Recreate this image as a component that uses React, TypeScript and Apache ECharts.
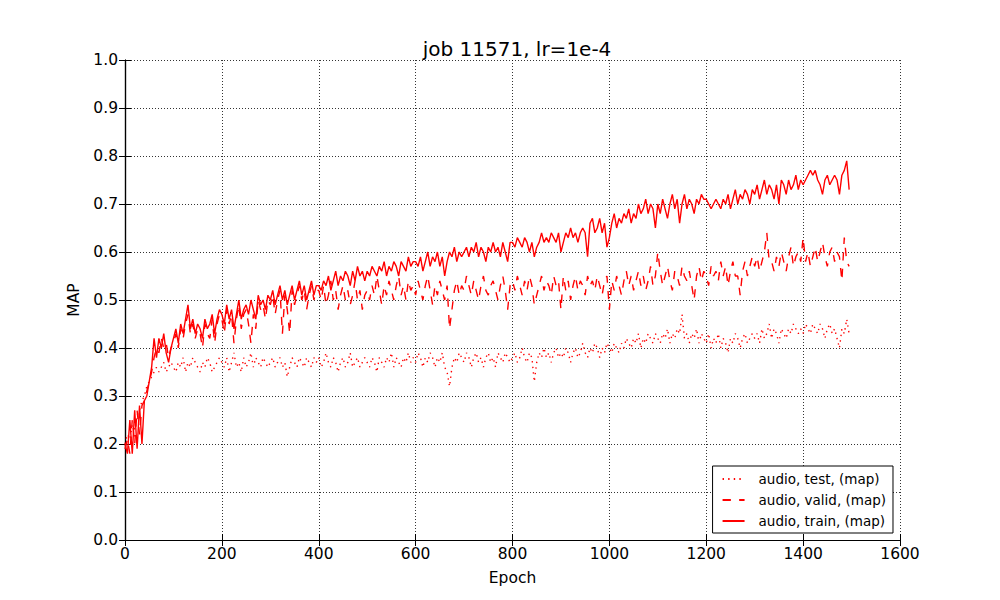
import React, { useEffect, useRef } from "react";
import * as echarts from "echarts";

const EPOCH_STEP = 5;
const X_TICKS = { min: 0, max: 1600, interval: 200 };
const Y_TICKS = { min: 0, max: 1, interval: 0.1 };

const testMap = [
  0.20,0.22,0.21,0.24,0.23,0.26,0.27,0.29,0.30,0.32,0.33,0.34,0.35,0.36,0.35,0.36,0.37,0.35,0.36,0.37,
  0.36,0.35,0.37,0.36,0.38,0.35,0.37,0.36,0.38,0.37,0.36,0.35,0.37,0.36,0.38,0.37,0.35,0.36,0.37,0.38,
  0.37,0.36,0.38,0.35,0.37,0.39,0.36,0.37,0.35,0.38,0.36,0.37,0.39,0.36,0.38,0.37,0.36,0.38,0.37,0.36,
  0.37,0.38,0.36,0.37,0.38,0.36,0.37,0.34,0.36,0.38,0.37,0.36,0.38,0.37,0.36,0.38,0.37,0.36,0.38,0.37,
  0.38,0.36,0.37,0.39,0.37,0.36,0.38,0.37,0.35,0.37,0.38,0.36,0.37,0.39,0.36,0.37,0.38,0.36,0.37,0.38,
  0.37,0.36,0.38,0.37,0.35,0.38,0.37,0.36,0.38,0.37,0.39,0.36,0.38,0.37,0.36,0.38,0.37,0.39,0.37,0.38,
  0.37,0.39,0.38,0.36,0.38,0.37,0.39,0.38,0.36,0.38,0.37,0.39,0.36,0.35,0.32,0.36,0.38,0.37,0.39,0.38,
  0.37,0.39,0.38,0.36,0.38,0.39,0.37,0.38,0.36,0.38,0.39,0.37,0.38,0.36,0.39,0.38,0.37,0.39,0.38,0.37,
  0.38,0.39,0.37,0.38,0.40,0.38,0.37,0.39,0.38,0.33,0.37,0.39,0.38,0.40,0.38,0.39,0.37,0.39,0.40,0.38,
  0.39,0.38,0.40,0.39,0.37,0.39,0.40,0.38,0.39,0.41,0.39,0.38,0.40,0.39,0.41,0.40,0.38,0.40,0.39,0.41,
  0.40,0.39,0.41,0.40,0.39,0.41,0.40,0.42,0.41,0.40,0.42,0.41,0.43,0.40,0.42,0.41,0.43,0.42,0.41,0.43,
  0.42,0.41,0.43,0.42,0.44,0.41,0.43,0.42,0.44,0.43,0.47,0.42,0.43,0.41,0.43,0.42,0.44,0.41,0.43,0.42,
  0.41,0.43,0.40,0.42,0.41,0.43,0.40,0.42,0.41,0.39,0.42,0.41,0.43,0.42,0.40,0.42,0.43,0.41,0.42,0.43,
  0.42,0.43,0.41,0.44,0.42,0.43,0.45,0.42,0.44,0.43,0.41,0.44,0.43,0.42,0.44,0.43,0.45,0.44,0.43,0.44,
  0.43,0.45,0.44,0.43,0.45,0.44,0.43,0.45,0.44,0.42,0.44,0.45,0.43,0.44,0.42,0.40,0.44,0.43,0.46,0.43,
];

const validMap = [
  0.19,0.21,0.18,0.25,0.20,0.27,0.22,0.28,0.29,0.31,0.33,0.35,0.38,0.40,0.39,0.42,0.40,0.41,0.38,0.40,
  0.41,0.43,0.40,0.44,0.42,0.45,0.47,0.43,0.45,0.42,0.44,0.43,0.40,0.45,0.43,0.42,0.46,0.41,0.45,0.47,
  0.46,0.43,0.48,0.45,0.47,0.41,0.46,0.49,0.44,0.47,0.48,0.45,0.41,0.47,0.44,0.50,0.48,0.49,0.46,0.50,
  0.49,0.51,0.47,0.50,0.52,0.43,0.51,0.48,0.43,0.52,0.49,0.51,0.53,0.50,0.52,0.48,0.51,0.53,0.50,0.52,
  0.52,0.50,0.53,0.49,0.51,0.54,0.50,0.52,0.48,0.51,0.53,0.50,0.52,0.49,0.51,0.54,0.50,0.52,0.48,0.51,
  0.52,0.50,0.53,0.51,0.55,0.52,0.49,0.53,0.51,0.54,0.52,0.50,0.53,0.55,0.51,0.53,0.50,0.54,0.52,0.53,
  0.51,0.54,0.52,0.50,0.53,0.55,0.52,0.49,0.53,0.51,0.54,0.52,0.50,0.53,0.44,0.48,0.52,0.54,0.51,0.53,
  0.52,0.55,0.53,0.51,0.54,0.52,0.50,0.53,0.55,0.52,0.51,0.53,0.54,0.52,0.50,0.53,0.55,0.52,0.48,0.53,
  0.54,0.52,0.55,0.53,0.51,0.54,0.52,0.55,0.53,0.49,0.51,0.53,0.55,0.52,0.54,0.53,0.51,0.55,0.53,0.54,
  0.48,0.55,0.52,0.54,0.50,0.53,0.55,0.52,0.54,0.53,0.51,0.55,0.53,0.54,0.52,0.55,0.53,0.51,0.54,0.55,
  0.48,0.54,0.52,0.55,0.53,0.51,0.54,0.56,0.53,0.55,0.52,0.54,0.56,0.53,0.55,0.52,0.54,0.57,0.53,0.55,
  0.60,0.56,0.53,0.55,0.57,0.54,0.52,0.56,0.55,0.53,0.57,0.55,0.54,0.56,0.53,0.50,0.55,0.57,0.54,0.56,
  0.55,0.53,0.57,0.55,0.56,0.54,0.58,0.55,0.57,0.53,0.56,0.58,0.55,0.55,0.51,0.56,0.58,0.55,0.57,0.59,
  0.57,0.59,0.56,0.58,0.60,0.64,0.58,0.58,0.56,0.59,0.57,0.60,0.58,0.56,0.59,0.61,0.57,0.59,0.60,0.58,
  0.63,0.58,0.60,0.57,0.59,0.61,0.58,0.60,0.62,0.59,0.57,0.60,0.61,0.58,0.60,0.59,0.54,0.63,0.58,0.57,
];

const trainMap = [
  0.20,0.18,0.25,0.18,0.27,0.19,0.28,0.20,0.29,0.30,0.33,0.36,0.42,0.38,0.42,0.40,0.43,0.39,0.37,0.40,
  0.42,0.44,0.41,0.45,0.43,0.46,0.49,0.44,0.46,0.43,0.45,0.44,0.42,0.46,0.44,0.45,0.47,0.43,0.46,0.48,
  0.47,0.45,0.49,0.46,0.48,0.44,0.47,0.50,0.46,0.48,0.49,0.47,0.50,0.48,0.46,0.51,0.49,0.50,0.48,0.51,
  0.50,0.52,0.49,0.51,0.53,0.50,0.52,0.49,0.51,0.53,0.50,0.52,0.54,0.51,0.53,0.50,0.52,0.54,0.51,0.53,
  0.53,0.52,0.54,0.53,0.55,0.52,0.54,0.56,0.53,0.55,0.54,0.56,0.55,0.53,0.56,0.54,0.57,0.55,0.56,0.54,
  0.56,0.55,0.57,0.56,0.55,0.57,0.56,0.58,0.55,0.57,0.56,0.58,0.57,0.55,0.58,0.57,0.56,0.59,0.57,0.58,
  0.58,0.57,0.59,0.56,0.58,0.60,0.57,0.59,0.58,0.60,0.57,0.59,0.55,0.58,0.60,0.59,0.61,0.58,0.60,0.59,
  0.60,0.61,0.59,0.61,0.60,0.62,0.59,0.61,0.60,0.58,0.61,0.60,0.62,0.60,0.61,0.59,0.62,0.60,0.58,0.62,
  0.62,0.61,0.63,0.62,0.61,0.63,0.62,0.60,0.62,0.59,0.61,0.62,0.64,0.62,0.63,0.62,0.64,0.63,0.62,0.64,
  0.60,0.62,0.64,0.63,0.65,0.63,0.64,0.62,0.64,0.65,0.64,0.59,0.66,0.67,0.64,0.65,0.67,0.64,0.66,0.61,
  0.63,0.66,0.68,0.65,0.67,0.66,0.68,0.67,0.69,0.66,0.68,0.67,0.70,0.68,0.69,0.71,0.68,0.70,0.69,0.65,
  0.70,0.68,0.71,0.69,0.67,0.70,0.72,0.69,0.71,0.66,0.70,0.72,0.69,0.71,0.70,0.68,0.71,0.70,0.72,0.71,
  0.71,0.70,0.69,0.70,0.71,0.70,0.69,0.71,0.70,0.72,0.69,0.71,0.73,0.70,0.72,0.71,0.73,0.72,0.70,0.73,
  0.72,0.74,0.71,0.73,0.75,0.72,0.74,0.73,0.71,0.74,0.70,0.75,0.74,0.72,0.75,0.73,0.74,0.76,0.73,0.75,
  0.74,0.75,0.76,0.77,0.76,0.77,0.75,0.74,0.72,0.75,0.76,0.74,0.75,0.76,0.75,0.72,0.76,0.77,0.79,0.73,
];

const SERIES_NAMES = ["audio, test, (map)", "audio, valid, (map)", "audio, train, (map)"];

const FONT = "DejaVu Sans";
const RED = "#ff0000";
const LW = 1.39;

function pairs(values: number[]) {
  return values.map((v, i) => [i * EPOCH_STEP, v]);
}

export default function App() {
  const ref = useRef<HTMLDivElement>(null);
  useEffect(() => {
    if (!ref.current) return;
    const chart = echarts.init(ref.current, undefined, { renderer: "svg" });
    const frameAxis = {
      axisLine: { show: true, lineStyle: { color: "#000", width: 1.2 } },
      axisTick: { show: true, inside: true, length: 6, lineStyle: { color: "#000", width: 1 } },
    };
    const gridLine = { show: true, lineStyle: { color: "#000", width: 0.8, type: [1, 2] } };
    const labelStyle = { color: "#000", fontFamily: FONT, fontSize: 15.5 };
    chart.setOption({
      animation: false,
      backgroundColor: "#fff",
      title: {
        text: "job 11571, lr=1e-4",
        left: 512,
        textAlign: "center",
        top: 34,
        textStyle: { color: "#000", fontFamily: FONT, fontSize: 20, fontWeight: "normal" },
      },
      grid: { left: 125, right: 100, top: 60, bottom: 60, containLabel: false },
      legend: {
        orient: "vertical",
        right: 107,
        bottom: 67,
        data: SERIES_NAMES,
        backgroundColor: "#fff",
        borderColor: "#000",
        borderWidth: 1,
        borderRadius: 0,
        padding: [6, 7, 5, 9],
        itemWidth: 22,
        itemHeight: 14,
        itemGap: 7,
        itemStyle: { color: "rgba(0,0,0,0)", borderColor: "rgba(0,0,0,0)", borderWidth: 0 },
        textStyle: { color: "#000", fontFamily: FONT, fontSize: 13.5, padding: [0, 0, 0, 9] },
      },
      xAxis: [
        {
          type: "value",
          ...X_TICKS,
          name: "Epoch",
          nameLocation: "middle",
          nameGap: 30,
          nameTextStyle: labelStyle,
          ...frameAxis,
          axisLabel: { ...labelStyle, margin: 6, formatter: (v: number) => String(v) },
          splitLine: gridLine,
        },
        {
          type: "value",
          ...X_TICKS,
          position: "top",
          ...frameAxis,
          axisLabel: { show: false },
          splitLine: { show: false },
        },
      ],
      yAxis: [
        {
          type: "value",
          ...Y_TICKS,
          name: "MAP",
          nameLocation: "middle",
          nameGap: 36,
          nameTextStyle: labelStyle,
          ...frameAxis,
          axisLabel: { ...labelStyle, margin: 7, formatter: (v: number) => v.toFixed(1) },
          splitLine: gridLine,
        },
        {
          type: "value",
          ...Y_TICKS,
          position: "right",
          ...frameAxis,
          axisLabel: { show: false },
          splitLine: { show: false },
        },
      ],
      series: [
        {
          name: SERIES_NAMES[0],
          type: "line",
          data: pairs(testMap),
          symbol: "none",
          showSymbol: false,
          color: RED,
          lineStyle: { color: RED, width: LW, type: [1.4, 4.2] },
        },
        {
          name: SERIES_NAMES[1],
          type: "line",
          data: pairs(validMap),
          symbol: "none",
          showSymbol: false,
          color: RED,
          lineStyle: { color: RED, width: LW, type: [8.3, 8.3] },
        },
        {
          name: SERIES_NAMES[2],
          type: "line",
          data: pairs(trainMap),
          symbol: "none",
          showSymbol: false,
          color: RED,
          lineStyle: { color: RED, width: LW, type: "solid" },
        },
      ],
    });
    return () => chart.dispose();
  }, []);
  return (
    <div
      ref={ref}
      style={{ position: "fixed", left: 0, top: 0, width: 1000, height: 600, background: "#fff" }}
    />
  );
}
